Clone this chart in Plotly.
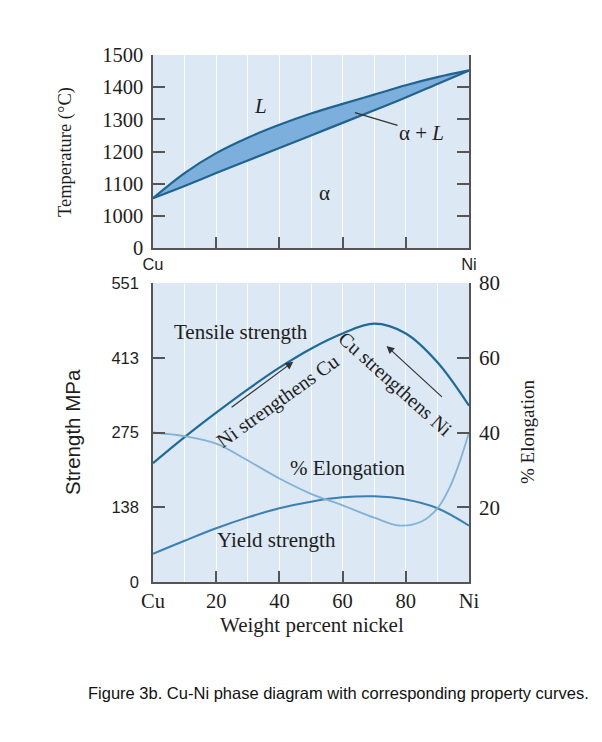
import plotly.graph_objects as go

# ---------------- data ----------------
# Phase diagram (top panel)
phase_x = [0, 10, 20, 30, 40, 50, 60, 70, 80, 90, 100]
liquidus = [1055, 1133, 1195, 1243, 1283, 1318, 1348, 1377, 1406, 1431, 1452]
solidus = [1055, 1093, 1133, 1172, 1211, 1250, 1289, 1328, 1368, 1410, 1452]
temp_tickvals = [900, 1000, 1100, 1200, 1300, 1400, 1500]
temp_ticktext = ["0", "1000", "1100", "1200", "1300", "1400", "1500"]

# Property curves (bottom panel)
prop_x = [0, 10, 20, 30, 40, 50, 60, 70, 80, 90, 100]
tensile = [219, 267, 312, 355, 395, 430, 458, 476, 458, 405, 325]
yield_strength = [52, 76, 99, 119, 136, 148, 156, 158, 152, 136, 104]
elong_x = [0, 10, 20, 30, 40, 50, 60, 70, 78, 85, 90, 94, 97, 100]
elongation = [40, 39, 37, 32.5, 27.7, 23.6, 20.5, 17.2, 15.1, 16.2, 19.7, 25.5, 32, 40]

strength_tickvals = [0, 137.75, 275.5, 413.25, 551]
strength_ticktext = ["0", "138", "275", "413", "551"]
elong_tickvals = [0, 20, 40, 60, 80]
elong_ticktext = ["", "20", "40", "60", "80"]
x_tickvals = [0, 20, 40, 60, 80, 100]
x_ticktext_bottom = ["Cu", "20", "40", "60", "80", "Ni"]
x_ticktext_top = ["Cu", "", "", "", "", "Ni"]

# ---------------- style ----------------
PAGE_MARGIN = 8          # default body margin of the html page
FW, FH = 602 - 2 * PAGE_MARGIN, 742 - 2 * PAGE_MARGIN
SERIF = "Liberation Serif, Times New Roman, serif"
SANS = "Liberation Sans, Arial, sans-serif"
AXIS = "#555555"
BG = "#dce8f4"
DARK = "#1f6490"
TENS = "#1f6b97"
YLD = "#3b80b3"
ELG = "#80b3d7"
FILL = "#7cafdc"
TXT = "#1e1e1e"

def px_x(p):
    return (p - PAGE_MARGIN) / FW

def px_y(p):
    return (FH - (p - PAGE_MARGIN)) / FH

xdom = [px_x(153), px_x(469)]
top_dom = [px_y(248), px_y(55)]
bot_dom = [px_y(582), px_y(283)]

fig = go.Figure()

# top panel
fig.add_trace(go.Scatter(x=phase_x, y=solidus, xaxis="x2", yaxis="y2", mode="lines",
                         line=dict(color=DARK, width=2.2, shape="spline"), showlegend=False))
fig.add_trace(go.Scatter(x=phase_x, y=liquidus, xaxis="x2", yaxis="y2", mode="lines",
                         line=dict(color=DARK, width=2.2, shape="spline"), fill="tonexty",
                         fillcolor=FILL, showlegend=False))

# bottom panel
fig.add_trace(go.Scatter(x=prop_x, y=tensile, xaxis="x", yaxis="y", mode="lines",
                         line=dict(color=TENS, width=2.2, shape="spline"), showlegend=False))
fig.add_trace(go.Scatter(x=prop_x, y=yield_strength, xaxis="x", yaxis="y", mode="lines",
                         line=dict(color=YLD, width=2.0, shape="spline"), showlegend=False))
fig.add_trace(go.Scatter(x=elong_x, y=elongation, xaxis="x", yaxis="y3", mode="lines",
                         line=dict(color=ELG, width=1.8, shape="spline"), showlegend=False))

common_axis = dict(showline=True, linecolor=AXIS, linewidth=1.5, ticks="inside",
                   tickcolor=AXIS, tickwidth=1.5, zeroline=False, automargin=False)
grid_x = dict(showgrid=True, gridcolor="rgba(255,255,255,0.85)", gridwidth=1,
              minor=dict(tickvals=[10, 30, 50, 70, 90], showgrid=True,
                         gridcolor="rgba(255,255,255,0.85)", gridwidth=1, ticks=""))

fig.update_layout(
    width=FW, height=FH,
    margin=dict(l=0, r=0, t=0, b=0),
    paper_bgcolor="white", plot_bgcolor=BG,
    xaxis=dict(domain=xdom, anchor="y", range=[0, 100], tickmode="array",
               tickvals=x_tickvals, ticktext=x_ticktext_bottom, ticklen=11,
               tickfont=dict(family=SERIF, size=20.5, color=TXT), **grid_x, **common_axis),
    yaxis=dict(domain=bot_dom, anchor="x", range=[0, 551], tickmode="array",
               tickvals=strength_tickvals, ticktext=strength_ticktext, ticklen=12,
               ticklabelstandoff=9, showgrid=False,
               tickfont=dict(family=SANS, size=16.5, color=TXT), **common_axis),
    yaxis3=dict(overlaying="y", anchor="x", side="right", range=[0, 80], tickmode="array",
                tickvals=elong_tickvals, ticktext=elong_ticktext, ticklen=12, showgrid=False,
                ticklabelstandoff=4,
                tickfont=dict(family=SERIF, size=21, color=TXT), **common_axis),
    xaxis2=dict(domain=xdom, anchor="y2", range=[0, 100], tickmode="array",
                tickvals=x_tickvals, ticktext=x_ticktext_top, ticklen=11,
                tickfont=dict(family=SANS, size=16.5, color=TXT), **grid_x, **common_axis),
    yaxis2=dict(domain=top_dom, anchor="x2", range=[900, 1500], tickmode="array",
                tickvals=temp_tickvals, ticktext=temp_ticktext, ticklen=12, showgrid=False,
                ticklabelstandoff=4, mirror="ticks",
                tickfont=dict(family=SERIF, size=20.5, color=TXT), **common_axis),
)

ann = []
lbl = dict(family=SERIF, size=21, color=TXT)
C = dict(xanchor="center", yanchor="middle")
# top panel labels
ann.append(dict(x=33.9, y=1342, xref="x2", yref="y2", text="<i>L</i>", showarrow=False, font=lbl, **C))
ann.append(dict(x=54.4, y=1070, xref="x2", yref="y2", text="α", showarrow=False, font=lbl, **C))
ann.append(dict(x=63.9, y=1321, xref="x2", yref="y2", ax=85, ay=1259, axref="x2", ayref="y2",
                text="α + <i>L</i>", showarrow=True, arrowhead=0, arrowwidth=1.2,
                arrowcolor="#333333", font=lbl, **C))
# bottom panel labels
ann.append(dict(x=28, y=461, xref="x", yref="y", text="Tensile strength", showarrow=False, font=lbl, **C))
ann.append(dict(x=61.5, y=210, xref="x", yref="y", text="% Elongation", showarrow=False, font=lbl, **C))
ann.append(dict(x=39, y=77, xref="x", yref="y", text="Yield strength", showarrow=False, font=lbl, **C))
ann.append(dict(x=39.4, y=332, xref="x", yref="y", text="Ni strengthens Cu", textangle=-35.5,
                showarrow=False, font=dict(family=SERIF, size=20, color=TXT), **C))
ann.append(dict(x=76.8, y=364.5, xref="x", yref="y", text="Cu strengthens Ni", textangle=42,
                showarrow=False, font=dict(family=SERIF, size=20, color=TXT), **C))
ann.append(dict(x=44.4, y=406, xref="x", yref="y", ax=24.4, ay=320, axref="x", ayref="y",
                text="", showarrow=True, arrowhead=2, arrowsize=1.3, arrowwidth=1.2,
                arrowcolor="#333333"))
ann.append(dict(x=73.9, y=435, xref="x", yref="y", ax=91.9, ay=338.5, axref="x", ayref="y",
                text="", showarrow=True, arrowhead=2, arrowsize=1.3, arrowwidth=1.2,
                arrowcolor="#333333"))
# axis titles
ann.append(dict(x=px_x(65), y=px_y(152), xref="paper", yref="paper", text="Temperature (°C)",
                textangle=-90, showarrow=False, font=dict(family=SERIF, size=18.5, color=TXT), **C))
ann.append(dict(x=px_x(72), y=px_y(432), xref="paper", yref="paper", text="Strength MPa",
                textangle=-90, showarrow=False, font=dict(family=SANS, size=20.5, color=TXT), **C))
ann.append(dict(x=px_x(527), y=px_y(432), xref="paper", yref="paper", text="% Elongation",
                textangle=-90, showarrow=False, font=dict(family=SERIF, size=19, color=TXT), **C))
ann.append(dict(x=px_x(312), y=px_y(625), xref="paper", yref="paper", text="Weight percent nickel",
                showarrow=False, font=dict(family=SERIF, size=21, color=TXT), **C))
ann.append(dict(x=px_x(338), y=px_y(693), xref="paper", yref="paper",
                text="Figure 3b. Cu-Ni phase diagram with corresponding property curves.",
                showarrow=False, font=dict(family=SANS, size=16.5, color="#111111"), **C))

fig.update_layout(annotations=ann)
fig.write_html("out.html")
